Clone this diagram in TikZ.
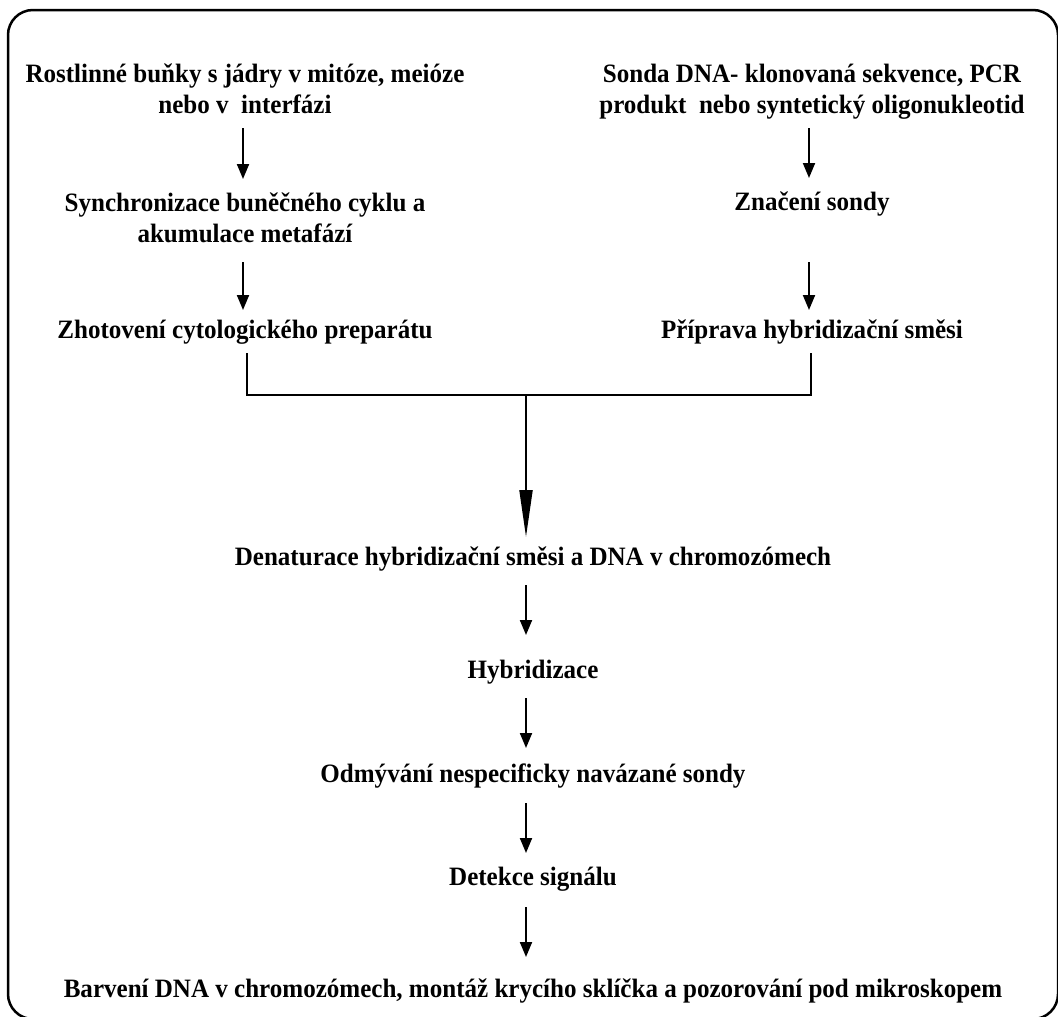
\documentclass[tikz,border=0pt]{standalone}
\usepackage{fontspec}
\setmainfont{Liberation Serif}[FakeStretch=0.945]
\usetikzlibrary{arrows.meta}
\begin{document}
\begin{tikzpicture}[x=1pt,y=-1pt,
  txt/.style={inner sep=0pt, outer sep=0pt, anchor=base, align=center,
    font=\fontsize{26.5}{31}\selectfont\bfseries, text height=17pt, text depth=0pt},
  txttwo/.style={txt, text height=48pt},
  arr/.style={line width=2pt, -{Triangle[length=15pt,width=12pt]}},
  bigarr/.style={line width=2pt, -{Triangle[length=47pt,width=13pt]}},
  conn/.style={line width=2pt},
  frame/.style={line width=2.5pt, rounded corners=25pt}]
\useasboundingbox (0,0) rectangle (1058,1017);
\draw[frame] (8,10) rectangle (1058,1019);

% left column (two-line nodes are placed at the baseline of their last line)
\node[txttwo] (l1) at (245,113) {Rostlinné buňky s jádry v mitóze, meióze\\nebo v~ interfázi};
\node[txttwo] (l2) at (245,242) {Synchronizace buněčného cyklu a\\akumulace metafází};
\node[txt] (l3) at (245,338) {Zhotovení cytologického preparátu};
% right column
\node[txttwo] (r1) at (812,113) {Sonda DNA- klonovaná sekvence, PCR\\produkt~ nebo syntetický oligonukleotid};
\node[txt] (r2) at (812,210) {Značení sondy};
\node[txt] (r3) at (812,338) {Příprava hybridizační směsi};
% centre column
\node[txt] (c1) at (533,565) {Denaturace hybridizační směsi a DNA v chromozómech};
\node[txt] (c2) at (533,678) {Hybridizace};
\node[txt] (c3) at (533,782) {Odmývání nespecificky navázané sondy};
\node[txt] (c4) at (533,885) {Detekce signálu};
\node[txt] (c5) at (533,997) {Barvení DNA v chromozómech, montáž krycího sklíčka a pozorování pod mikroskopem};

\draw[arr, shorten <=15pt, shorten >=15pt] ([xshift=-2pt]l1.south) -- ([xshift=-2pt]l2.north);
\draw[arr, shorten <=20pt, shorten >=11pt] ([xshift=-2pt]l2.south) -- ([xshift=-2pt]l3.north);
\draw[arr, shorten <=15pt, shorten >=15pt] ([xshift=-3pt]r1.south) -- ([xshift=-3pt]r2.north);
\draw[arr, shorten <=52pt, shorten >=11pt] ([xshift=-3pt]r2.south) -- ([xshift=-3pt]r3.north);

\coordinate (jm) at (526,395);
\draw[conn] ([xshift=2pt,yshift=-15pt]l3.south) |- (jm) -| ([xshift=-1pt,yshift=-15pt]r3.south);
\draw[bigarr, shorten >=11pt] (jm) -- (jm |- c1.north);

\draw[arr, shorten <=20pt, shorten >=26pt] ([xshift=-7pt]c1.south) -- ([xshift=-7pt]c2.north);
\draw[arr, shorten <=20pt, shorten >=17pt] ([xshift=-7pt]c2.south) -- ([xshift=-7pt]c3.north);
\draw[arr, shorten <=21pt, shorten >=15pt] ([xshift=-7pt]c3.south) -- ([xshift=-7pt]c4.north);
\draw[arr, shorten <=22pt, shorten >=23pt] ([xshift=-7pt]c4.south) -- ([xshift=-7pt]c5.north);
\end{tikzpicture}
\end{document}
